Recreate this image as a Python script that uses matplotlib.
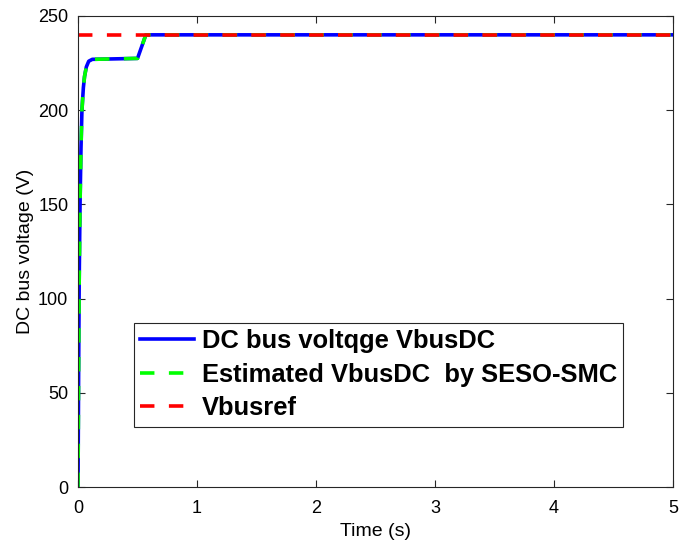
import numpy as np
import matplotlib.pyplot as plt

plt.rcParams['font.family'] = ['Liberation Sans', 'DejaVu Sans']

# === data ===
t = [0, 0.005, 0.01, 0.017, 0.025, 0.033, 0.045, 0.055, 0.07, 0.09, 0.12, 0.5, 0.57, 5]
vbus = [0, 60, 110, 150, 180, 200, 212, 218, 223, 226, 227, 227.5, 240, 240]
t_ref = [0, 5]
vref = [240, 240]

fig = plt.figure(figsize=(6.79, 5.46), dpi=100)
ax = fig.add_axes([0.1149, 0.108, 0.8763, 0.8627])

ax.plot(t, vbus, color='#0000ff', lw=2.6, label='DC bus voltqge VbusDC')
ax.plot(t, vbus, color='#00ff00', lw=2.6, ls=(0, (4, 4)),
        label='Estimated VbusDC  by SESO-SMC')
ax.plot(t_ref, vref, color='#ff0000', lw=2.6, ls=(0, (4, 4)), label='Vbusref')

ax.set_xlim(0, 5)
ax.set_ylim(0, 250)
ax.set_xticks(range(6))
ax.set_yticks(range(0, 251, 50))
ax.tick_params(direction='in', top=True, right=True, labelsize=13, length=5,
               width=0.8, color='#262626')
ax.tick_params(axis='x', pad=9)
ax.tick_params(axis='y', pad=7)
for s in ax.spines.values():
    s.set_color('#262626')
    s.set_linewidth(0.8)
ax.set_xlabel('Time (s)', fontsize=14, labelpad=5)
ax.set_ylabel('DC bus voltage (V)', fontsize=14, labelpad=3)

leg = ax.legend(loc='lower left', bbox_to_anchor=(0.094, 0.128), fancybox=False,
                frameon=True, edgecolor='#262626', framealpha=1,
                prop={'weight': 'bold', 'size': 18.4}, handlelength=2.1,
                handletextpad=0.3, labelspacing=0.37, borderpad=0.25,
                borderaxespad=0)
leg.get_frame().set_linewidth(0.8)

fig.savefig('out.png', dpi=100)
